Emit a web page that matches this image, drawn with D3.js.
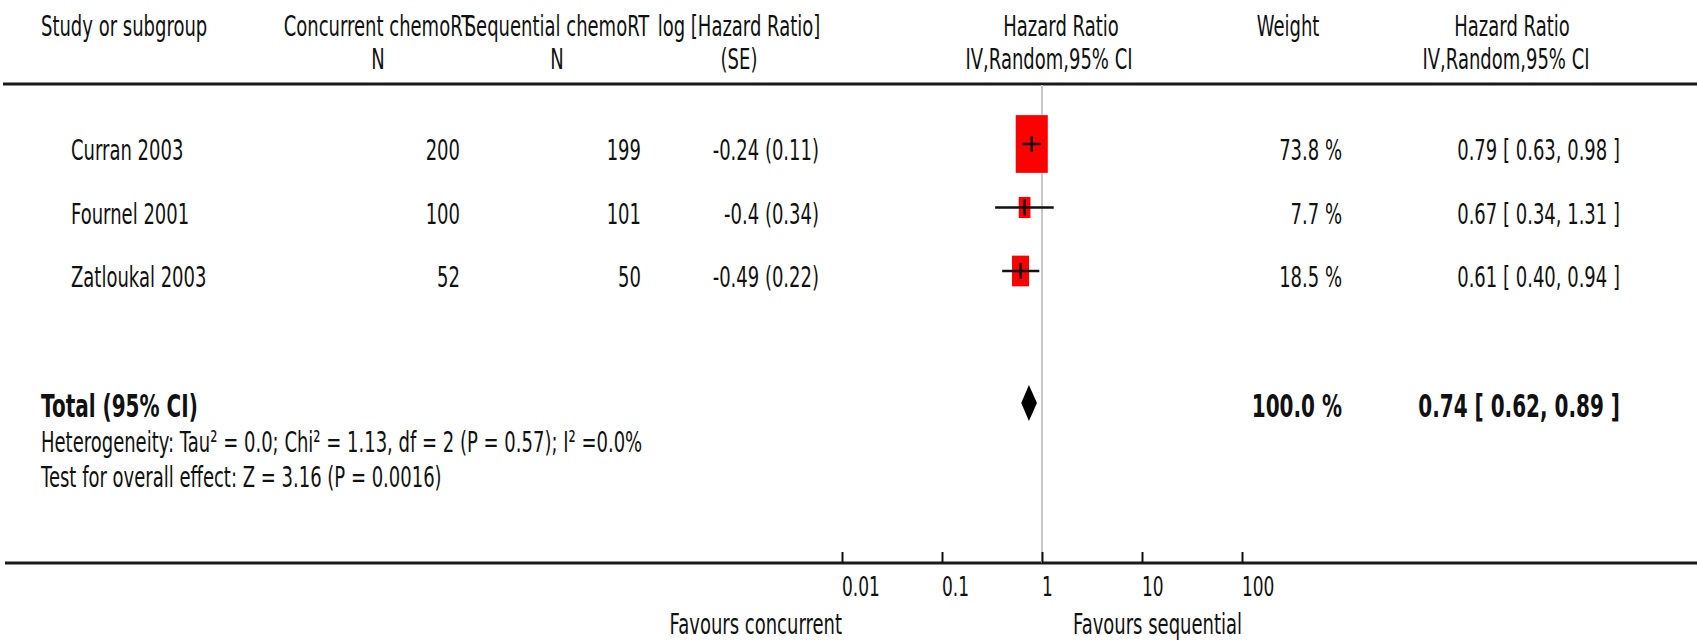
<!DOCTYPE html>
<html>
<head>
<meta charset="utf-8">
<script src="https://cdn.jsdelivr.net/npm/d3@7"></script>
<style>
  body { margin: 0; background: #fff; }
  svg { display: block; }
</style>
</head>
<body>
<svg id="chart"></svg>
<script>
// Study rows
const studies = ["Curran 2003", "Fournel 2001", "Zatloukal 2003"];
const nConcurrent = [200, 100, 52];
const nSequential = [199, 101, 50];
const logHR = ["-0.24", "-0.4", "-0.49"];
const seLogHR = ["0.11", "0.34", "0.22"];
const weights = [73.8, 7.7, 18.5];
const hazardRatio = [0.79, 0.67, 0.61];
const ciLow = [0.63, 0.34, 0.40];
const ciHigh = [0.98, 1.31, 0.94];

// Pooled estimate
const totalHR = [0.74];
const totalLow = [0.62];
const totalHigh = [0.89];
const totalWeight = [100.0];

const xTicks = [0.01, 0.1, 1, 10, 100];
const xTickLabels = ["0.01", "0.1", "1", "10", "100"];

const width = 1697;
const height = 641;
const stretch = 1.6; // text in the source is drawn tall and narrow

const svg = d3.select("#chart")
  .attr("width", width)
  .attr("height", height);

const xScale = d3.scaleLog().domain([0.01, 100]).range([842, 1242]);
const yScale = d3.scalePoint().domain(studies).range([144, 271]);
const boxScale = d3.scaleSqrt().domain([0, 100]).range([2, 37]);

const totalY = 403;
const axisY = 563;
const fmt2 = d3.format(".2f");

// helper to put a stretched text label
function label(x, y, str, anchor, size, bold) {
  return svg.append("text")
    .attr("transform", `translate(${x},${y}) scale(1,${stretch})`)
    .attr("text-anchor", anchor || "start")
    .attr("font-family", "'DejaVu Sans', Verdana, sans-serif")
    .attr("font-size", size || 18)
    .attr("font-weight", bold ? "bold" : "normal")
    .attr("fill", "#111")
    .text(str);
}

// Header
label(41, 36, "Study or subgroup");
label(378, 36, "Concurrent chemoRT", "middle");
label(557, 36, "Sequential chemoRT", "middle");
label(739, 36, "log [Hazard Ratio]", "middle");
label(1061, 36, "Hazard Ratio", "middle");
label(1288, 36, "Weight", "middle");
label(1512, 36, "Hazard Ratio", "middle");
label(378, 69, "N", "middle");
label(557, 69, "N", "middle");
label(739, 69, "(SE)", "middle");
label(1049, 69, "IV,Random,95% CI", "middle");
label(1506, 69, "IV,Random,95% CI", "middle");

// heavy rules
svg.append("line")
  .attr("x1", 3).attr("x2", width)
  .attr("y1", 84).attr("y2", 84)
  .attr("stroke", "#1a1a1a").attr("stroke-width", 3);

svg.append("line")
  .attr("x1", 5).attr("x2", width)
  .attr("y1", axisY).attr("y2", axisY)
  .attr("stroke", "#1a1a1a").attr("stroke-width", 3);

// line of no effect
svg.append("line")
  .attr("x1", xScale(1)).attr("x2", xScale(1))
  .attr("y1", 85).attr("y2", axisY)
  .attr("stroke", "#c8c8c8").attr("stroke-width", 2);

// Study rows: text columns
studies.forEach((s, i) => {
  const y = yScale(s) + 16;
  label(71, y, s);
  label(460, y, nConcurrent[i], "end");
  label(641, y, nSequential[i], "end");
  label(819, y, `${logHR[i]} (${seLogHR[i]})`, "end");
  label(1342, y, `${weights[i].toFixed(1)} %`, "end");
  label(1620, y, `${fmt2(hazardRatio[i])} [ ${fmt2(ciLow[i])}, ${fmt2(ciHigh[i])} ]`, "end");
});

// Study rows: boxes
svg.selectAll(".box")
  .data(studies)
  .join("rect")
  .attr("class", "box")
  .attr("x", (d, i) => xScale(hazardRatio[i]) - boxScale(weights[i]) / 2)
  .attr("y", (d, i) => yScale(d) - boxScale(weights[i]) * 1.8 / 2)
  .attr("width", (d, i) => boxScale(weights[i]))
  .attr("height", (d, i) => boxScale(weights[i]) * 1.8)
  .attr("fill", "#ff0000");

// confidence intervals
svg.selectAll(".ci")
  .data(studies)
  .join("line")
  .attr("class", "ci")
  .attr("x1", (d, i) => xScale(ciLow[i]))
  .attr("x2", (d, i) => xScale(ciHigh[i]))
  .attr("y1", d => yScale(d))
  .attr("y2", d => yScale(d))
  .attr("stroke", "#111")
  .attr("stroke-width", 2.5);

// vertical tick of the point estimate
svg.selectAll(".pt")
  .data(studies)
  .join("line")
  .attr("class", "pt")
  .attr("x1", (d, i) => xScale(hazardRatio[i]))
  .attr("x2", (d, i) => xScale(hazardRatio[i]))
  .attr("y1", d => yScale(d) - 8)
  .attr("y2", d => yScale(d) + 8)
  .attr("stroke", "#111")
  .attr("stroke-width", 2.5);

// Total row
label(41, 417, "Total (95% CI)", "start", 20, true);
label(1342, 417, `${totalWeight[0].toFixed(1)} %`, "end", 20, true);
label(1620, 417, `${fmt2(totalHR[0])} [ ${fmt2(totalLow[0])}, ${fmt2(totalHigh[0])} ]`, "end", 20, true);
label(41, 452, "Heterogeneity: Tau² = 0.0; Chi² = 1.13, df = 2 (P = 0.57); I² =0.0%");
label(41, 487, "Test for overall effect: Z = 3.16 (P = 0.0016)");

// pooled diamond
svg.append("path")
  .attr("d", d3.line()([
    [xScale(totalLow[0]), totalY],
    [xScale(totalHR[0]), totalY - 18],
    [xScale(totalHigh[0]), totalY],
    [xScale(totalHR[0]), totalY + 18]
  ]) + "Z")
  .attr("fill", "#000");

// x axis
const xAxis = d3.axisTop(xScale).tickValues(xTicks).tickSize(11).tickFormat("");
svg.append("g")
  .attr("class", "axis")
  .attr("transform", `translate(0,${axisY})`)
  .call(xAxis)
  .call(g => g.select(".domain").remove())
  .selectAll(".tick line")
  .attr("stroke", "#111")
  .attr("stroke-width", 2);

xTicks.forEach((t, i) => label(xScale(t), 596, xTickLabels[i], "start", 17));

label(xScale(0.01), 634, "Favours concurrent", "end");
label(xScale(100), 634, "Favours sequential", "end");
</script>
</body>
</html>
